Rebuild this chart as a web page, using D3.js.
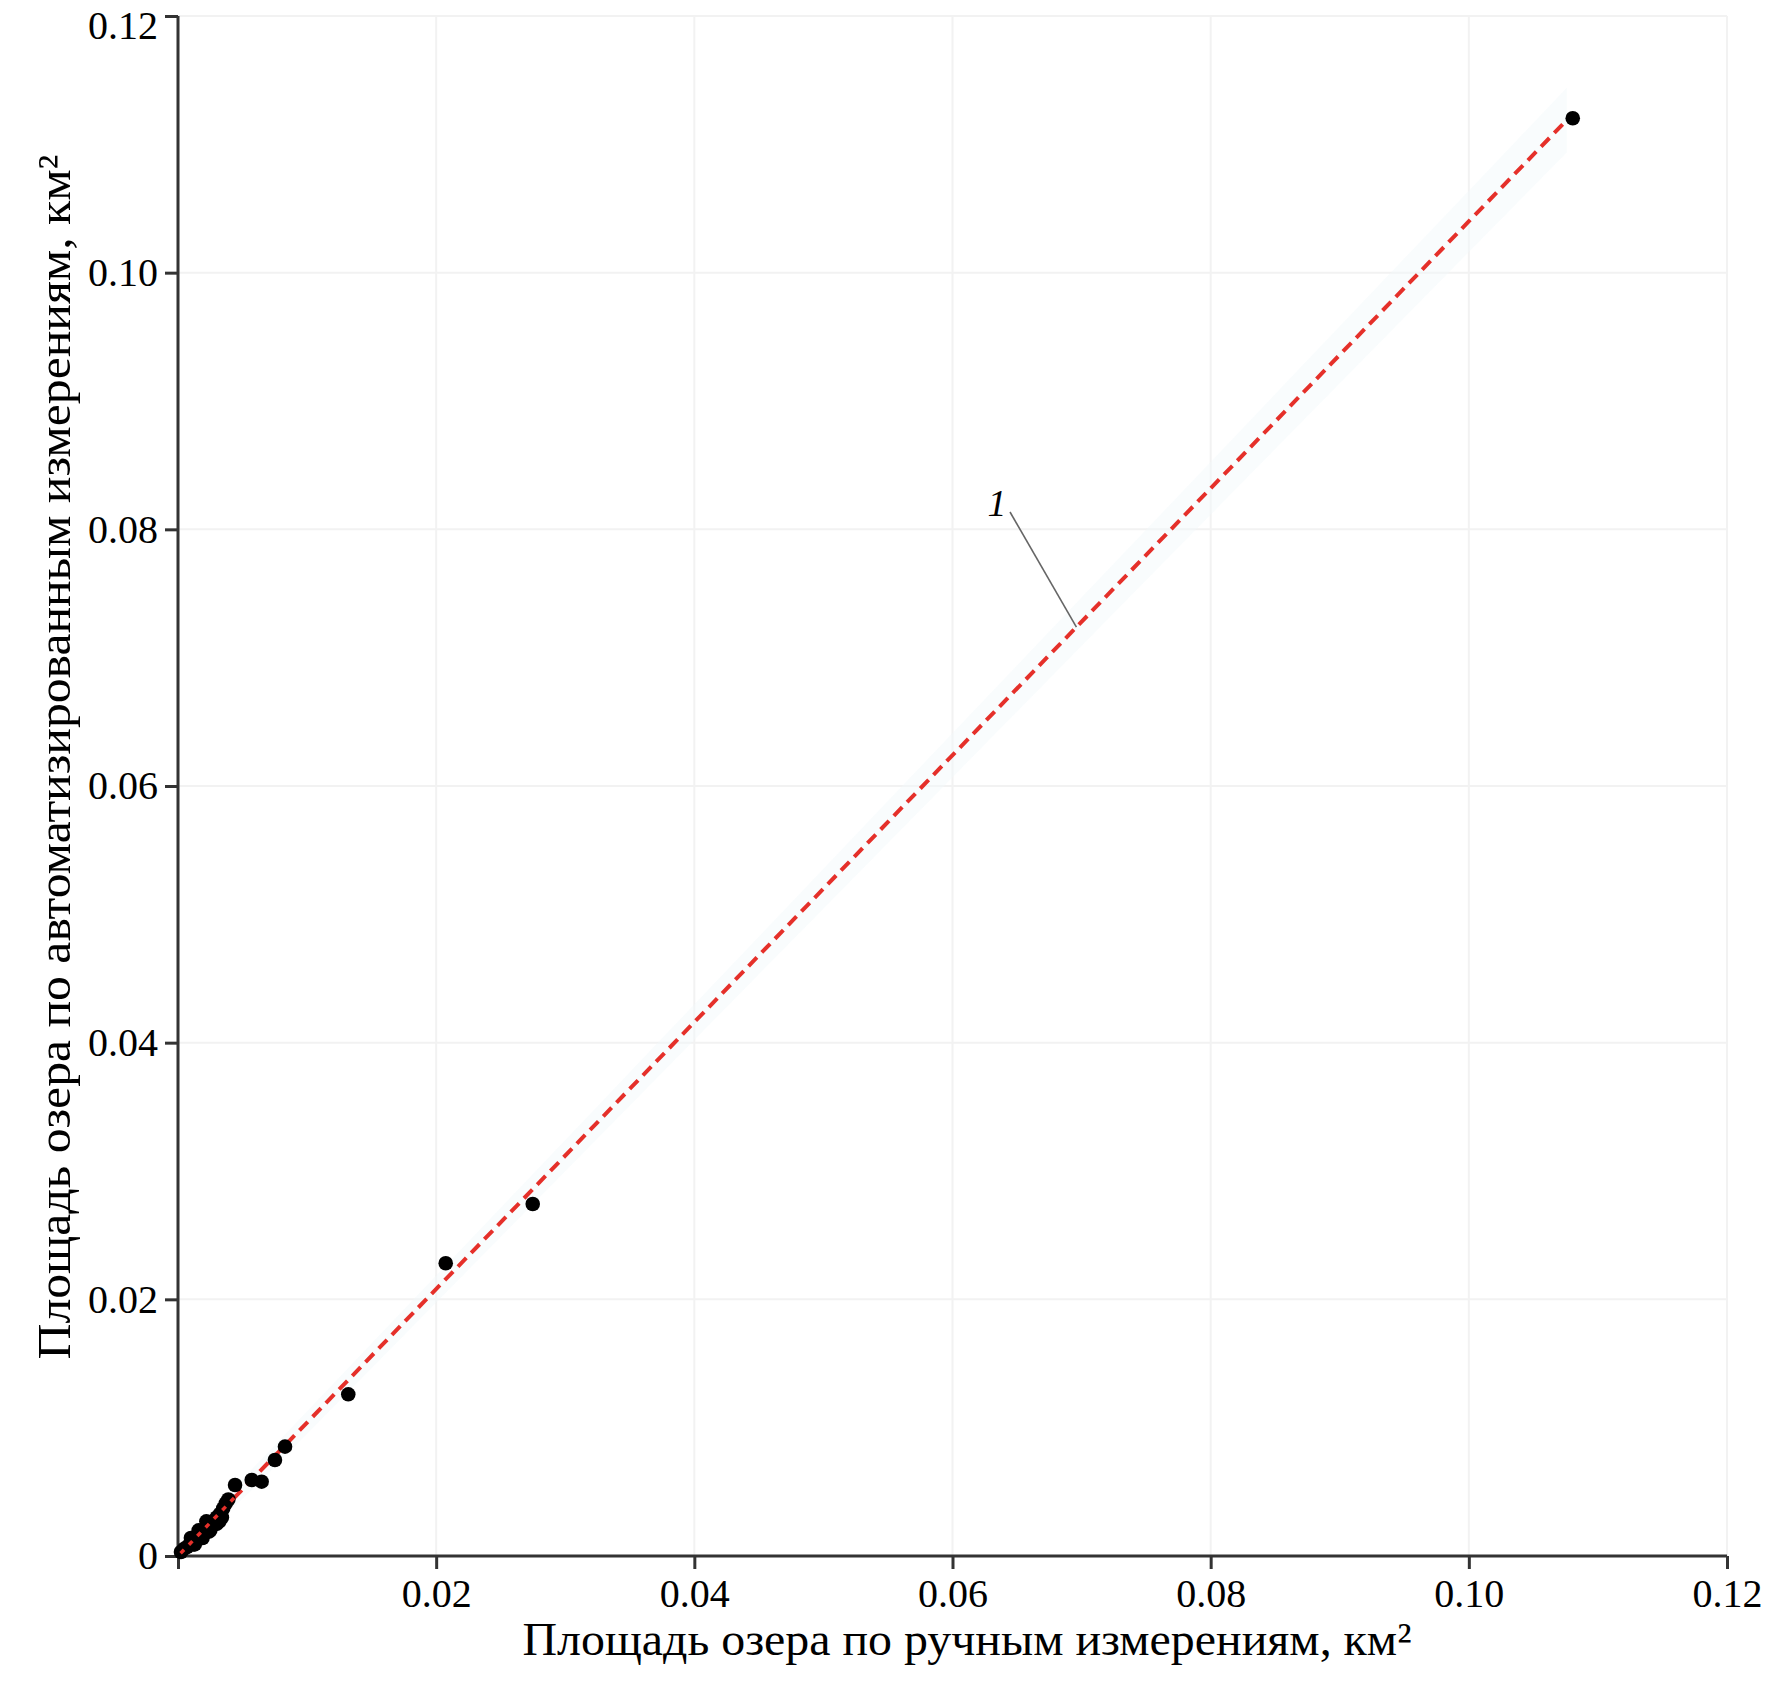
<!DOCTYPE html>
<html>
<head>
<meta charset="utf-8">
<script src="https://cdn.jsdelivr.net/npm/d3@7"></script>
<style>
  html, body { margin: 0; padding: 0; background: #fff; }
  svg { display: block; }
  text { font-family: "Liberation Serif", "Times New Roman", serif; fill: #000; }
</style>
</head>
<body>
<svg id="chart" width="1772" height="1684"></svg>
<script>
// ---- data (km²) ----
const manualArea = [0.00023, 0.00046, 0.0007, 0.00093, 0.00116, 0.0014, 0.00163, 0.00186, 0.0021, 0.0023,
  0.00256, 0.0028, 0.003, 0.00325, 0.0035, 0.0037, 0.0039, 0.0013, 0.0019, 0.0025, 0.0032,
  0.0012, 0.0018, 0.0024, 0.0030, 0.0034, 0.0010, 0.0016, 0.0022,
  0.00442, 0.00571, 0.00648, 0.00751, 0.00829, 0.01319, 0.02074, 0.02748, 0.10805];
const autoArea = [0.00031, 0.00055, 0.0007, 0.00094, 0.00117, 0.00125, 0.00156, 0.00171, 0.00187, 0.0021,
  0.0024, 0.0027, 0.003, 0.00327, 0.0037, 0.0041, 0.0044, 0.0009, 0.0014, 0.0020, 0.0027,
  0.0009, 0.0014, 0.0019, 0.0025, 0.0030, 0.0014, 0.0020, 0.0027,
  0.00553, 0.00592, 0.00579, 0.00748, 0.00852, 0.0126, 0.02281, 0.02743, 0.11203];
const fitSlope = 1.04;
const fitIntercept = 0.0;
const fitRange = [0.0002, 0.1076];
const xTicks = [0, 0.02, 0.04, 0.06, 0.08, 0.10, 0.12];
const yTicks = [0, 0.02, 0.04, 0.06, 0.08, 0.10, 0.12];
const xTitle = "Площадь озера по ручным измерениям, км²";
const yTitle = "Площадь озера по автоматизированным измерениям, км²";
const lineLabel = "1";

const svg = d3.select("#chart");
const x = d3.scaleLinear().domain([0, 0.12]).range([178, 1727]);
const y = d3.scaleLinear().domain([0, 0.12]).range([1556, 16]);
const fmt = d => d === 0 ? "0" : d3.format(".2f")(d);

// grid
const grid = svg.append("g");
grid.selectAll("line.gx").data(xTicks.slice(1)).enter().append("line")
  .attr("x1", d => x(d)).attr("x2", d => x(d)).attr("y1", y(0.12)).attr("y2", y(0))
  .attr("stroke", "#f2f2f2").attr("stroke-width", 2);
grid.selectAll("line.gy").data(yTicks.slice(1)).enter().append("line")
  .attr("y1", d => y(d)).attr("y2", d => y(d)).attr("x1", x(0)).attr("x2", x(0.12))
  .attr("stroke", "#f2f2f2").attr("stroke-width", 2);

// faint band around fit
const bandPts = [];
const bw = 0.0018;
d3.range(0, 1.0001, 0.05).forEach(t => {
  const xv = fitRange[0] + t * (fitRange[1] - fitRange[0]);
  bandPts.push([x(xv), y(fitSlope * xv + fitIntercept + bw * (0.4 + t))]);
});
d3.range(1, -0.0001, -0.05).forEach(t => {
  const xv = fitRange[0] + t * (fitRange[1] - fitRange[0]);
  bandPts.push([x(xv), y(Math.max(0, fitSlope * xv + fitIntercept - bw * (0.4 + t)))]);
});
svg.append("path").attr("d", d3.line()(bandPts) + "Z")
  .attr("fill", "#f1f8fa").attr("opacity", 0.45);

// axes
const xAxis = svg.append("g").attr("transform", `translate(0,${y(0)})`)
  .call(d3.axisBottom(x).tickValues(xTicks).tickFormat(d => d === 0 ? "" : fmt(d)).tickSize(13).tickPadding(10));
const yAxis = svg.append("g").attr("transform", `translate(${x(0)},0)`)
  .call(d3.axisLeft(y).tickValues(yTicks).tickFormat(fmt).tickSize(13).tickPadding(7));
[xAxis, yAxis].forEach(a => {
  a.select(".domain").attr("stroke", "#333").attr("stroke-width", 3);
  a.selectAll(".tick line").attr("stroke", "#333").attr("stroke-width", 3);
  a.selectAll(".tick text").attr("font-size", 40).attr("fill", "#000")
    .style("font-family", "'Liberation Serif', serif");
});
xAxis.select(".domain").attr("d", `M${x(0)},0H${x(0.12)}`);
yAxis.select(".domain").attr("d", `M0,${y(0)}V${y(0.12)}`);
// keep top label inside the page
yAxis.selectAll(".tick").filter(d => d === 0.12).select("text").attr("dy", "0.55em");

// fit line
svg.append("line")
  .attr("x1", x(fitRange[0])).attr("y1", y(fitSlope * fitRange[0] + fitIntercept))
  .attr("x2", x(fitRange[1])).attr("y2", y(fitSlope * fitRange[1] + fitIntercept))
  .attr("stroke", "#e5302a").attr("stroke-width", 4).attr("stroke-dasharray", "12,7");

// points
const pts = manualArea.map((d, i) => [d, autoArea[i]]);
svg.append("g").selectAll("circle").data(pts).enter().append("circle")
  .attr("cx", d => x(d[0])).attr("cy", d => y(d[1])).attr("r", 7.3).attr("fill", "#000");

// red dashes visible over the dense cluster
svg.append("line")
  .attr("x1", x(fitRange[0])).attr("y1", y(fitSlope * fitRange[0] + fitIntercept))
  .attr("x2", x(0.0045)).attr("y2", y(fitSlope * 0.0045 + fitIntercept))
  .attr("stroke", "#e5302a").attr("stroke-width", 3.5).attr("stroke-dasharray", "5,7");

// label 1 with leader
const lx = 0.0696;
svg.append("line")
  .attr("x1", 1010).attr("y1", 512)
  .attr("x2", x(lx)).attr("y2", y(fitSlope * lx + fitIntercept))
  .attr("stroke", "#666").attr("stroke-width", 1.6);
svg.append("text").attr("x", 997).attr("y", 516).attr("text-anchor", "middle")
  .attr("font-size", 38).attr("font-style", "italic").text(lineLabel);

// titles
svg.append("text").attr("x", 967).attr("y", 1655).attr("text-anchor", "middle")
  .attr("font-size", 47).attr("textLength", 889).attr("lengthAdjust", "spacingAndGlyphs").text(xTitle);
svg.append("text").attr("transform", "translate(70,757) rotate(-90)").attr("text-anchor", "middle")
  .attr("font-size", 47).attr("textLength", 1205).attr("lengthAdjust", "spacingAndGlyphs").text(yTitle);
</script>
</body>
</html>
